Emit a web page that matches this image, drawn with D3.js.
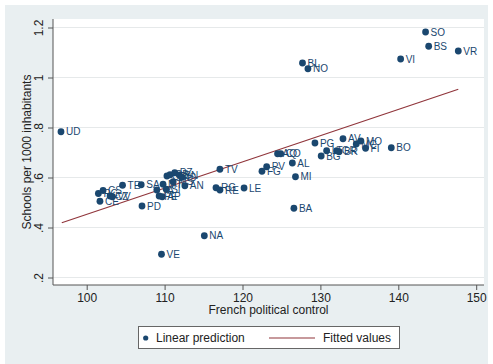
<!DOCTYPE html>
<html><head><meta charset="utf-8">
<script src="https://cdn.jsdelivr.net/npm/d3@7"></script>
<style>body{margin:0;background:#fff}svg{display:block}text{font-family:"Liberation Sans",Arial,sans-serif}</style>
</head><body><svg id="c" width="493" height="364"></svg>
<script>
const labels = ["UD","SO","BS","VR","VI","BL","NO","PG","AV","MC","MO","FI","BO","BG","LT","GR","BR","AQ","CO","AL","PV","FG","MI","LE","BA","TV","RG","RE","NA","VE","PD","TE","SA","CE","RC","CS","CZ","VV","MT","TA","AP","PE","CH","CB","PZ","BN","IS","MS","SI","AN"];
const xVals = [96.7,143.5,143.9,147.7,140.3,127.7,128.4,129.3,132.9,134.6,135.2,135.8,139.1,130.1,130.8,132.1,132.4,124.5,124.9,126.4,123.1,122.5,126.8,120.2,126.6,117.1,116.6,117.1,115.1,109.6,107.1,104.6,107.0,101.7,101.5,102.1,103.0,103.3,109.8,109.0,109.7,109.3,110.3,110.7,111.3,111.9,112.2,111.1,110.2,112.6];
const yVals = [0.783,1.182,1.125,1.106,1.074,1.058,1.035,0.738,0.755,0.734,0.746,0.717,0.719,0.686,0.707,0.707,0.703,0.695,0.695,0.658,0.643,0.625,0.603,0.558,0.477,0.633,0.559,0.550,0.367,0.293,0.486,0.569,0.571,0.505,0.536,0.548,0.526,0.523,0.573,0.550,0.523,0.526,0.606,0.611,0.619,0.610,0.601,0.583,0.553,0.567];
const fitX = [96.8, 147.7];
const fitY = [0.419, 0.953];
const xTicks = [100,110,120,130,140,150];
const yTicks = [0.2,0.4,0.6,0.8,1,1.2];
const yTickLabels = [".2",".4",".6",".8","1","1.2"];

const svg = d3.select("#c");
const navy = "#1a476f", maroon = "#90353b", txt = "#222";
svg.append("rect").attr("x",5).attr("y",5).attr("width",483).attr("height",359).attr("fill","#e9eff1");
const L=53,R=484,T=19,B=285;
svg.append("rect").attr("x",L).attr("y",T).attr("width",R-L).attr("height",B-T).attr("fill","#fff");

const x = d3.scaleLinear().domain([100,150]).range([86.7,476.2]);
const y = d3.scaleLinear().domain([0.2,1.2]).range([277.5,27.5]);

// gridlines
svg.append("g").selectAll("line").data(yTicks).join("line")
  .attr("x1",L).attr("x2",R).attr("y1",d=>y(d)).attr("y2",d=>y(d))
  .attr("stroke","#e6e9ea").attr("stroke-width",1);

// axes
const xAxis = d3.axisBottom(x).tickValues(xTicks).tickSize(5).tickPadding(3);
const gx = svg.append("g").attr("transform",`translate(0,${B})`).call(xAxis);
gx.select(".domain").remove();
gx.selectAll("line").attr("stroke","#555");
gx.selectAll("text").attr("font-size",12).attr("fill",txt).attr("font-family","Liberation Sans, Arial, sans-serif");
svg.append("line").attr("x1",L).attr("x2",R).attr("y1",B).attr("y2",B).attr("stroke","#555");

const yAxis = d3.axisLeft(y).tickValues(yTicks).tickSize(5).tickFormat((d,i)=>yTickLabels[i]);
const gy = svg.append("g").attr("transform",`translate(${L},0)`).call(yAxis);
gy.select(".domain").remove();
gy.selectAll("line").attr("stroke","#555");
gy.selectAll("text").attr("font-size",12).attr("fill",txt).attr("font-family","Liberation Sans, Arial, sans-serif")
  .attr("text-anchor","middle").attr("dy",0).attr("x",0)
  .attr("transform","translate(-10,0) rotate(-90)");
svg.append("line").attr("x1",L).attr("x2",L).attr("y1",T).attr("y2",B).attr("stroke","#555");

// titles
svg.append("text").attr("x",(L+R)/2).attr("y",314).attr("text-anchor","middle").attr("font-size",12).attr("fill",txt).text("French political control");
svg.append("text").attr("transform",`translate(31,${(T+B)/2}) rotate(-90)`).attr("text-anchor","middle").attr("font-size",12).attr("fill",txt).text("Schools per 1000 inhabitants");

// fitted line
svg.append("line").attr("x1",x(fitX[0])).attr("y1",y(fitY[0])).attr("x2",x(fitX[1])).attr("y2",y(fitY[1]))
  .attr("stroke",maroon).attr("stroke-width",1.2);

// points
const pts = labels.map((l,i)=>({l,x:xVals[i],y:yVals[i]}));
const gp = svg.append("g");
gp.selectAll("circle").data(pts).join("circle").attr("cx",d=>x(d.x)).attr("cy",d=>y(d.y)).attr("r",3.4).attr("fill",navy);
gp.selectAll("text").data(pts).join("text").attr("x",d=>x(d.x)+5).attr("y",d=>y(d.y)).attr("dy","0.36em")
  .attr("font-size",10).attr("fill",navy).text(d=>d.l);

// legend
const lg = svg.append("g");
lg.append("rect").attr("x",138.5).attr("y",326.5).attr("width",261).attr("height",22).attr("fill","#fff").attr("stroke","#666");
lg.append("circle").attr("cx",145.7).attr("cy",338).attr("r",2.6).attr("fill",navy);
lg.append("text").attr("x",156).attr("y",342.2).attr("font-size",12).attr("fill",txt).text("Linear prediction");
lg.append("line").attr("x1",269).attr("x2",315).attr("y1",338).attr("y2",338).attr("stroke",maroon).attr("stroke-width",1.2);
lg.append("text").attr("x",323).attr("y",342.2).attr("font-size",12).attr("fill",txt).text("Fitted values");
</script></body></html>
